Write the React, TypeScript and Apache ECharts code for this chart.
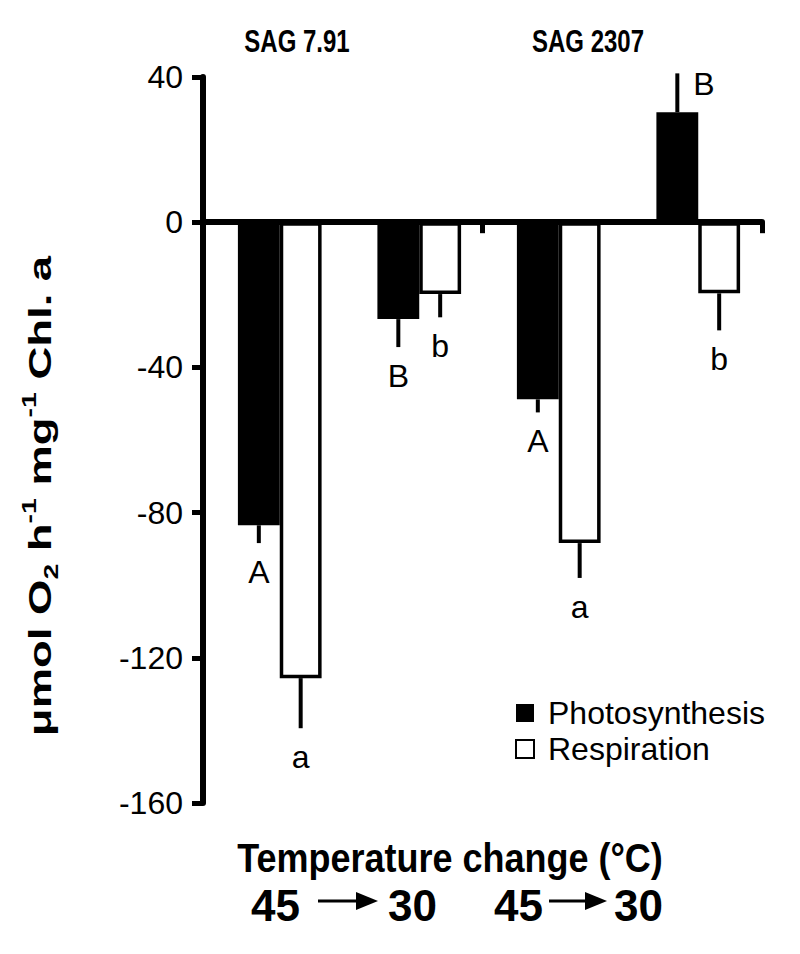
import React, { useEffect, useRef } from "react";
import * as echarts from "echarts";

// ---- data ----
const categories = ["SAG 7.91 (45 °C)", "SAG 7.91 (30 °C)", "SAG 2307 (45 °C)", "SAG 2307 (30 °C)"];
const strains = ["SAG 7.91", "SAG 2307"];
const photosynthesis = [-83.5, -26.7, -48.8, 30.3];
const photosynthesisErr = [4.9, 7.7, 3.6, 10.7];
const respiration = [-125.6, -19.8, -88.4, -19.6];
const respirationErr = [13.8, 6.4, 9.6, 10.2];
const photosynthesisLetters = ["A", "B", "A", "B"];
const respirationLetters = ["a", "b", "a", "b"];
const yMin = -160;
const yMax = 40;
const yStep = 40;

const FONT = "'Liberation Sans', Arial, Helvetica, sans-serif";
const BAR_FRAC = 0.3;

function errorSeries(name: string, values: number[], errs: number[], letters: string[], side: number) {
  return {
    type: "custom",
    name,
    xAxisIndex: 0,
    yAxisIndex: 0,
    z: 5,
    silent: true,
    data: values.map((v, i) => [i, v, errs[i]]),
    renderItem: (params: any, api: any) => {
      const i = api.value(0);
      const v = api.value(1);
      const e = api.value(2);
      const catW = api.size([1, 0])[0];
      const barW = catW * BAR_FRAC;
      const base = api.coord([i, v]);
      const x = base[0] + (side * barW) / 2;
      const end = api.coord([i, v + Math.sign(v) * e]);
      const letter = letters[params.dataIndex];
      const positive = v > 0;
      return {
        type: "group",
        children: [
          {
            type: "line",
            shape: { x1: x, y1: base[1], x2: x, y2: end[1] },
            style: { stroke: "#000", lineWidth: 4 },
          },
          {
            type: "text",
            x: positive ? x + 16 : x,
            y: positive ? end[1] - 5 : end[1] + 13,
            style: {
              text: letter,
              fill: "#000",
              fontSize: 32,
              fontFamily: FONT,
              align: positive ? "left" : "center",
              verticalAlign: "top",
            },
          },
        ],
      };
    },
  };
}

function arrowRow(x45Right: number, arrowStart: number, arrowEnd: number, x30Left: number, y: number) {
  const tStyle = { fill: "#000", fontSize: 44, fontWeight: "bold", fontFamily: FONT, verticalAlign: "middle" };
  return [
    { type: "text", x: x45Right, y, style: { ...tStyle, text: "45", align: "right" } },
    { type: "line", shape: { x1: arrowStart, y1: y - 4, x2: arrowEnd - 18, y2: y - 4 }, style: { stroke: "#000", lineWidth: 3 } },
    {
      type: "polygon",
      shape: { points: [[arrowEnd - 22, y - 13], [arrowEnd, y - 4], [arrowEnd - 22, y + 5]] },
      style: { fill: "#000" },
    },
    { type: "text", x: x30Left, y, style: { ...tStyle, text: "30", align: "left" } },
  ];
}

export default function App() {
  const ref = useRef<HTMLDivElement>(null);
  useEffect(() => {
    if (!ref.current) return;
    const chart = echarts.init(ref.current, undefined, { renderer: "svg" });
    const gridTop = 77;
    const gridHeight = 726;
    chart.setOption({
      animation: false,
      backgroundColor: "#fff",
      textStyle: { fontFamily: FONT },
      grid: [
        { left: 210, top: gridTop, width: 558, height: gridHeight },
        { left: 203, top: gridTop, width: 559, height: gridHeight },
      ],
      xAxis: [
        {
          gridIndex: 0,
          type: "category",
          data: categories,
          axisLine: { show: false },
          axisTick: { show: false },
          axisLabel: { show: false },
        },
        {
          gridIndex: 1,
          type: "category",
          data: strains,
          axisLine: { show: true, onZero: true, lineStyle: { color: "#000", width: 6 } },
          axisTick: { show: true, length: 11, lineStyle: { color: "#000", width: 5 } },
          axisLabel: { show: false },
          splitLine: { show: false },
        },
      ],
      yAxis: [
        { gridIndex: 0, type: "value", min: yMin, max: yMax, interval: yStep, show: false },
        {
          gridIndex: 1,
          type: "value",
          min: yMin,
          max: yMax,
          interval: yStep,
          axisLine: { show: true, lineStyle: { color: "#000", width: 6 } },
          axisTick: { show: true, length: 11, lineStyle: { color: "#000", width: 5 } },
          axisLabel: { color: "#000", fontSize: 32, margin: 20, fontFamily: FONT },
          splitLine: { show: false },
        },
      ],
      legend: {
        orient: "vertical",
        left: 510,
        top: 692,
        icon: "rect",
        itemWidth: 18,
        itemHeight: 18,
        itemGap: 4,
        textStyle: { color: "#000", fontSize: 32, fontFamily: FONT, padding: [0, 0, 0, 9] },
        data: ["Photosynthesis", "Respiration"],
      },
      series: [
        {
          name: "Photosynthesis",
          type: "bar",
          xAxisIndex: 0,
          yAxisIndex: 0,
          data: photosynthesis,
          barWidth: BAR_FRAC * 100 + "%",
          barGap: "0%",
          itemStyle: { color: "#000" },
        },
        {
          name: "Respiration",
          type: "bar",
          xAxisIndex: 0,
          yAxisIndex: 0,
          data: respiration,
          barWidth: BAR_FRAC * 100 + "%",
          barGap: "0%",
          itemStyle: { color: "#fff", borderColor: "#000", borderWidth: 3.5 },
        },
        errorSeries("Photosynthesis SE", photosynthesis, photosynthesisErr, photosynthesisLetters, -1),
        errorSeries("Respiration SE", respiration, respirationErr, respirationLetters, 1),
      ],
      graphic: [
        {
          type: "text",
          x: 297,
          y: 41,
          scaleY: 1.3,
          style: { text: strains[0], fill: "#000", fontSize: 24, fontWeight: "bold", fontFamily: FONT, align: "center", verticalAlign: "middle" },
        },
        {
          type: "text",
          x: 588,
          y: 41,
          scaleY: 1.3,
          style: { text: strains[1], fill: "#000", fontSize: 24, fontWeight: "bold", fontFamily: FONT, align: "center", verticalAlign: "middle" },
        },
        {
          type: "text",
          x: 450,
          y: 858,
          scaleY: 1.15,
          style: { text: "Temperature change (°C)", fill: "#000", fontSize: 36, fontWeight: "bold", fontFamily: FONT, align: "center", verticalAlign: "middle" },
        },
        ...arrowRow(300, 318, 378, 388, 905),
        ...arrowRow(543, 549, 607, 614, 905),
        {
          type: "text",
          x: 40,
          y: 496,
          rotation: Math.PI / 2,
          scaleX: 1.42,
          style: {
            text: "{b|μmol O}{s|2}{b| h}{p|-1}{b| mg}{p|-1}{b| Chl. a}",
            fill: "#000",
            fontFamily: FONT,
            align: "center",
            verticalAlign: "middle",
            rich: {
              b: { fontSize: 32, fontWeight: "bold", fontFamily: FONT, lineHeight: 42, fill: "#000" },
              s: { fontSize: 20, fontWeight: "bold", fontFamily: FONT, lineHeight: 42, verticalAlign: "bottom", fill: "#000" },
              p: { fontSize: 20, fontWeight: "bold", fontFamily: FONT, lineHeight: 42, verticalAlign: "top", fill: "#000" },
            },
          },
        },
      ],
    });
    return () => chart.dispose();
  }, []);
  return <div ref={ref} style={{ position: "fixed", left: 0, top: 0, width: 800, height: 954 }} />;
}
